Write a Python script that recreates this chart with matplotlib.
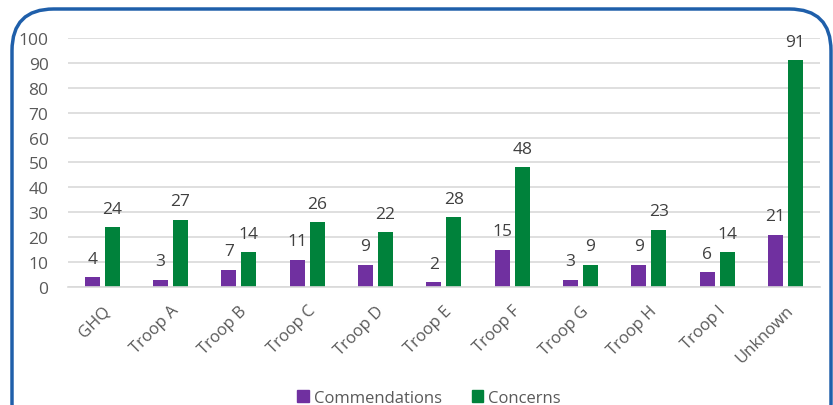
import matplotlib
matplotlib.use("Agg")
import matplotlib.pyplot as plt
from matplotlib.patches import FancyBboxPatch, Patch
import numpy as np

categories = ["GHQ", "Troop A", "Troop B", "Troop C", "Troop D", "Troop E",
              "Troop F", "Troop G", "Troop H", "Troop I", "Unknown"]
commendations = [4, 3, 7, 11, 9, 2, 15, 3, 9, 6, 21]
concerns = [24, 27, 14, 26, 22, 28, 48, 9, 23, 14, 91]
yticks = [0, 10, 20, 30, 40, 50, 60, 70, 80, 90, 100]

purple = "#7030A0"
green = "#00823B"

plt.rcParams['font.family'] = ['Open Sans', 'DejaVu Sans']

fig = plt.figure(figsize=(8.33, 4.06), dpi=100)
ax = fig.add_axes([0.0816, 0.2906, 0.9024, 0.6134])

x = np.arange(len(categories))
w = 0.22
off = 0.146
b1 = ax.bar(x - off, commendations, w, color=purple)
b2 = ax.bar(x + off, concerns, w, color=green)

for rect, v in zip(b1, commendations):
    ax.annotate(str(v), (rect.get_x() + rect.get_width() / 2, v), xytext=(0, 7.5),
                textcoords="offset points", ha="center", va="bottom",
                fontsize=12.5, color="#404040")
for rect, v in zip(b2, concerns):
    ax.annotate(str(v), (rect.get_x() + rect.get_width() / 2, v), xytext=(0, 7.5),
                textcoords="offset points", ha="center", va="bottom",
                fontsize=12.5, color="#404040")

ax.set_xlim(-0.5, len(categories) - 0.5)
ax.set_ylim(0, 100)
ax.set_yticks(yticks)
ax.set_yticklabels([str(t) for t in yticks], fontsize=12.5, color="#595959")
ax.set_xticks(x)
ax.set_xticklabels(categories, rotation=45, ha="right", rotation_mode="anchor",
                   fontsize=12, color="#595959")
ax.tick_params(axis="both", length=0)
ax.tick_params(axis="y", pad=14)
ax.tick_params(axis="x", pad=11)
ax.grid(axis="y", color="#D9D9D9", linewidth=1.2)
ax.set_axisbelow(True)
for s in ["top", "right", "left"]:
    ax.spines[s].set_visible(False)
ax.spines["bottom"].set_color("#D9D9D9")
ax.spines["bottom"].set_linewidth(1.2)

handles = [Patch(color=purple, label="Commendations"), Patch(color=green, label="Concerns")]
fig.legend(handles=handles, loc="center", bbox_to_anchor=(0.515, 0.018), ncol=2,
           frameon=False, fontsize=12, handlelength=0.7, handleheight=0.7,
           handletextpad=0.3, columnspacing=1.8, labelcolor="#595959")

# rounded border
W, H = 833, 406
box = FancyBboxPatch((12 / W, -0.1), (831 - 12) / W, 1 - 10 / H + 0.1,
                     boxstyle="round,pad=0,rounding_size=0.05",
                     transform=fig.transFigure, fill=False,
                     edgecolor="#1F5FAA", linewidth=2.5, mutation_aspect=W / H)
fig.patches.append(box)

fig.savefig("out.png", dpi=100)
